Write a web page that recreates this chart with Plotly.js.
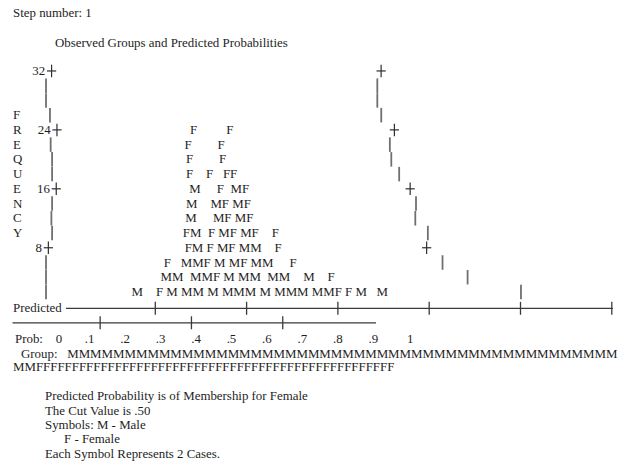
<!DOCTYPE html>
<html><head><meta charset="utf-8">
<script src="https://cdn.plot.ly/plotly-3.0.1.min.js"></script>
<style>html,body{margin:0;padding:0;background:#fff}</style>
</head><body><div id="chart" style="width:625px;height:465px"></div>
<script>
// ---------------- data ----------------
const stepNumber = 1;
const plotTitle = "Observed Groups and Predicted Probabilities";
const freqTicks = [32, 24, 16, 8];                  // labelled frequency ticks
const rowFreqs = [32, 30, 28, 26, 24, 22, 20, 18, 16, 14, 12, 10, 8, 6, 4, 2];
const axisWord = "FREQUENCY";                         // vertical axis title, rows 26..10
// symbol rows: [blank columns, symbols, blank columns, symbols, ...]
const symbolFreqs = [24, 22, 20, 18, 16, 14, 12, 10, 8, 6, 4, 2];
const symbolRuns = [
  [40, "F", 9, "F"],
  [41, "F", 8, "F"],
  [41, "F", 8, "F"],
  [41, "F", 4, "F", 3, "FF"],
  [40, "M", 5, "F", 2, "MF"],
  [41, "M", 4, "MF", 1, "MF"],
  [41, "M", 5, "MF", 1, "MF"],
  [40, "FM", 2, "F", 1, "MF", 1, "MF", 4, "F"],
  [41, "FM", 1, "F", 1, "MF", 1, "MM", 4, "F"],
  [36, "F", 3, "MMF", 1, "M", 1, "MF", 1, "MM", 5, "F"],
  [35, "MM", 2, "MMF", 1, "M", 1, "MM", 2, "MM", 4, "M", 4, "F"],
  [26, "M", 4, "F", 1, "M", 1, "MM", 1, "M", 1, "MMM", 1, "M", 1, "MMM", 1, "MMF", 1, "F", 1, "M", 3, "M"]
];
const predTicks = [0.1, 0.2, 0.3, 0.4, 0.5, 0.6, 0.7, 0.8, 0.9];
const probLabels = ["0", ".1", ".2", ".3", ".4", ".5", ".6", ".7", ".8", ".9", "1"];
const cutValue = 0.5;
const groupCodes = ["M", "F"];
const groupNames = ["Male", "Female"];
const casesPerSymbol = 2;

// ---------------- layout helpers ----------------
const NB = '\u00a0';
const sp = n => NB.repeat(Math.max(0, n));
const FSIZE = 12.9;
const FONT = {family: "Liberation Serif, Times New Roman, serif", size: FSIZE, color: "#1e1e1e"};
const cv = document.createElement('canvas').getContext('2d');
cv.font = FSIZE + "px 'Liberation Serif'";
const W = s => cv.measureText(s).width;
const X0 = 12.5;
const ann = [];
function txt(x, y, text, yref) {
  ann.push({xref: 'x', yref: yref || 'y2', x: x, y: y, text: text, showarrow: false,
    xanchor: 'left', yanchor: 'middle', borderpad: 0, borderwidth: 0, font: FONT});
}
function buildContent(runs, nCols) {
  let s = '', used = 0;
  for (let i = 0; i < runs.length; i += 2) { s += sp(runs[i]) + runs[i + 1]; used += runs[i] + runs[i + 1].length; }
  return s + sp(nCols - used);
}
const hide = c => '<span style="color:rgba(0,0,0,0)">' + c + '</span>';

// header
txt(13, 13, "Step number: " + stepNumber);
txt(55, 43, plotTitle);

// frequency rows; border marks drawn as line segments at measured text positions
const barX = [], barY = [], plusX = [], plusY = [];
const HALF = 0.985;      // half row height in frequency units
function addMark(mark, xStart, f) {
  const cx = xStart + W(mark) / 2;
  if (mark === '|') { barX.push(cx, cx, null); barY.push(f - HALF, f + HALF, null); }
  else {
    plusX.push(cx - 4.6, cx + 4.6, null, cx, cx, null);
    plusY.push(f, f, null, f - 0.85, f + 0.85, null);
  }
}
rowFreqs.forEach(f => {
  const li = (26 - f) / 2;
  const letter = (li >= 0 && li < axisWord.length) ? axisWord[li] : NB;
  let lead, mark, nCols;
  if (freqTicks.includes(f)) {
    const lab = String(f);
    lead = letter + sp(10 - 1 - lab.length - 2) + lab + NB; mark = '+'; nCols = 100;
  } else {
    lead = letter + sp(9); mark = '|'; nCols = 102;
  }
  const k = symbolFreqs.indexOf(f);
  const content = k >= 0 ? buildContent(symbolRuns[k], nCols) : sp(nCols);
  addMark(mark, X0 + W(lead), f);
  addMark(mark, X0 + W(lead + mark + content), f);
  txt(X0, f, lead + hide(mark) + content + hide(mark), 'y');
});

const traces = [];
traces.push({x: barX, y: barY, mode: 'lines', line: {color: '#707070', width: 1.8}, hoverinfo: 'skip'});
traces.push({x: plusX, y: plusY, mode: 'lines', line: {color: '#2e2e2e', width: 1.2}, hoverinfo: 'skip'});

// predicted axis (wraps onto a second line)
const COL = 9.13, L1X = 64, L2X = 12.5, WRAP = 60, Y1 = 308.3, Y2 = 322.8;
const colOf = p => p * 100;
function axisXY(c) { return c <= WRAP ? [L1X + c * COL, Y1] : [L2X + (c - WRAP) * COL - 3.65, Y2]; }
txt(X0, Y1, "Predicted");
const lineStyle = {color: '#3a3a3a', width: 1.3};
traces.push({x: [66, axisXY(WRAP)[0] + 1], y: [Y1, Y1], yaxis: 'y2', mode: 'lines', line: lineStyle, hoverinfo: 'skip'});
traces.push({x: [L2X, axisXY(100)[0] + 2], y: [Y2, Y2], yaxis: 'y2', mode: 'lines', line: lineStyle, hoverinfo: 'skip'});
const tx = [], ty = [];
predTicks.forEach(p => { const [x, y] = axisXY(colOf(p)); tx.push(x, x, null); ty.push(y - 6.5, y + 6.5, null); });
traces.push({x: tx, y: ty, yaxis: 'y2', mode: 'lines', line: lineStyle, hoverinfo: 'skip'});

// probability labels
let probLine = "Prob:" + sp(4) + probLabels[0];
probLabels.slice(1).forEach((l, i) => { probLine += sp((i === 0 ? 9 : 10) - l.length) + l; });
txt(14.5, 339, probLine);

// group line (cut value splits M / F), wraps after 48 symbols
let groupSyms = '';
for (let c = 0; c < 100; c++) groupSyms += (c / 100 < cutValue ? groupCodes[0] : groupCodes[1]);
const WRAP_G = 48;
txt(21.3, 354, "Group:" + sp(3) + groupSyms.slice(0, WRAP_G));
txt(X0, 367, groupSyms.slice(WRAP_G));

// notes
txt(44.7, 396, "Predicted Probability is of Membership for " + groupNames[1]);
txt(44.7, 411, "The Cut Value is " + cutValue.toFixed(2).replace(/^0/, ''));
txt(44.7, 425, "Symbols: " + groupCodes[0] + " - " + groupNames[0]);
txt(63.5, 439, groupCodes[1] + " - " + groupNames[1]);
txt(44.7, 453.5, "Each Symbol Represents " + casesPerSymbol + " Cases.");

// frequency scale: freq 0 at 306.7 px, 7.367 px per unit
const PXU = 7.367, F0 = 306.7;
const layout = {
  width: 625, height: 465, margin: {l: 0, r: 0, t: 0, b: 0},
  paper_bgcolor: '#fff', plot_bgcolor: '#fff', showlegend: false,
  xaxis: {range: [0, 625], visible: false, fixedrange: true},
  yaxis: {range: [-(465 - F0) / PXU, F0 / PXU], visible: false, fixedrange: true},
  yaxis2: {range: [465, 0], overlaying: 'y', visible: false, fixedrange: true},
  annotations: ann
};
Plotly.newPlot('chart', traces, layout, {displayModeBar: false, staticPlot: true});
</script></body></html>
